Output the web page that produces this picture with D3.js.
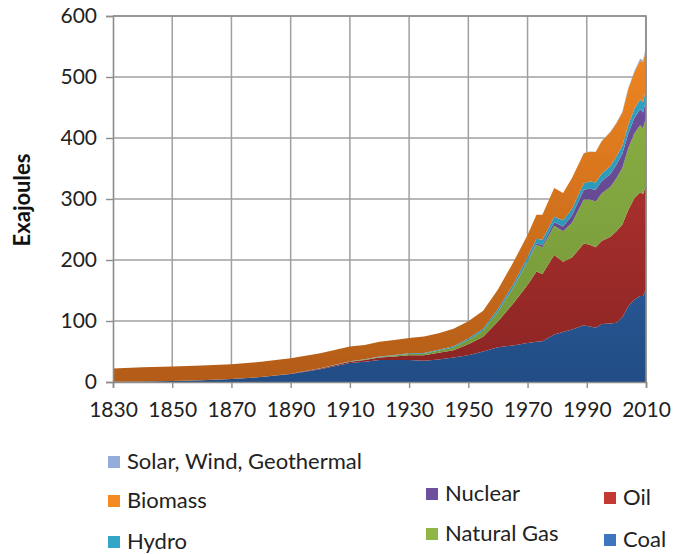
<!DOCTYPE html>
<html>
<head>
<meta charset="utf-8">
<script src="https://cdn.jsdelivr.net/npm/d3@7"></script>
<style>
  html, body { margin: 0; padding: 0; background: #fff; }
  svg { display: block; font-family: Lato, "Open Sans", sans-serif; }
</style>
</head>
<body>
<svg id="chart" width="684" height="554"></svg>
<script>
// world primary energy by source, exajoules
const years   = [1830,1840,1850,1860,1870,1880,1890,1900,1910,1915,1920,1925,1930,1935,1940,1945,1950,1955,1960,1965,1970,1973,1975,1979,1982,1985,1989,1991,1993,1995,1998,2000,2002,2004,2006,2008,2009,2010];
const coal    = [0.3,0.8,1.5,3,5,8,13,21,31,33,36,36,36,35,37,40,44,50,57,60,64,66,67,78,82,86,93,91,89,95,96,97,106,124,135,141,141,152];
const oil     = [0,0,0,0,0,0.1,0.5,1,2,3,4,6,8,9,11,12,18,24,42,68,95,115,110,130,115,118,134,134,132,136,142,150,152,158,166,170,167,170];
const gas     = [0,0,0,0,0,0,0.2,0.3,0.7,0.9,1,1.5,2,2.5,3.5,4.5,7,10,16,25,38,44,44,48,50,57,72,74,75,78,82,87,93,101,106,110,108,112];
const nuclear = [0,0,0,0,0,0,0,0,0,0,0,0,0,0,0,0,0,0,0,0.3,0.8,2,3.5,6,8,12,16,18,19,20,21,22,23,24,25,26,26,28];
const hydro   = [0,0,0,0,0,0,0,0.1,0.3,0.4,0.6,0.8,1,1.2,1.5,2,2.5,3.5,4.5,5.5,7,8,8.5,9,10,10.5,11,11.5,12,12.5,13,13.5,13.5,14,15,16,17,18];
const biomass = [21.7,23.2,24,24,24,24.9,25.3,24.6,24,23.5,24.4,24.7,25,27,27,29,28,29.5,32,36,36,39,41,47,45,51,49,49,50,53,56,54.5,54.3,59.4,60,64,65,66];
const solar   = [0,0,0,0,0,0,0,0,0,0,0,0,0,0,0,0,0,0,0,0,0,0,0,0,0,0.1,0.3,0.4,0.5,0.6,0.8,1,1.2,1.6,2,3,3.5,4];

const seriesNames = ["Coal","Oil","Natural Gas","Nuclear","Hydro","Biomass","Solar, Wind, Geothermal"];
const seriesData  = [coal, oil, gas, nuclear, hydro, biomass, solar];

const xTicks = [1830,1850,1870,1890,1910,1930,1950,1970,1990,2010];
const yTicks = [0,100,200,300,400,500,600];

// fill colours: [top, bottom] of a vertical gradient like the Excel original
const fills = {
    "Coal":        ["#3d76bf", "#214c84"],
    "Oil":         ["#c23a33", "#8a2424"],
    "Natural Gas": ["#8fb545", "#739539"],
    "Nuclear":     ["#6e519c", "#5e4488"],
    "Hydro":       ["#33a5c6", "#2a8fae"],
    "Biomass":     ["#f58a22", "#b35c18"],
    "Solar, Wind, Geothermal": ["#93acdb", "#7f9bcf"]
};

const svg = d3.select("#chart");
const plotLeft = 113, plotRight = 646, plotTop = 16, plotBottom = 382;

const x = d3.scaleLinear().domain([1830, 2010]).range([plotLeft, plotRight]);
const y = d3.scaleLinear().domain([0, 600]).range([plotBottom, plotTop]);

// gradients
const defs = svg.append("defs");
seriesNames.forEach((name, i) => {
    const g = defs.append("linearGradient")
        .attr("id", "grad" + i)
        .attr("gradientUnits", "userSpaceOnUse")
        .attr("x1", 0).attr("x2", 0)
        .attr("y1", plotTop).attr("y2", plotBottom);
    g.append("stop").attr("offset", "0%").attr("stop-color", fills[name][0]);
    g.append("stop").attr("offset", "100%").attr("stop-color", fills[name][1]);
});

// grid
const gridColor = "#a0a0a0";
svg.append("g")
    .selectAll("line")
    .data(yTicks.filter(d => d > 0))
    .join("line")
        .attr("x1", plotLeft).attr("x2", plotRight)
        .attr("y1", d => y(d)).attr("y2", d => y(d))
        .attr("stroke", gridColor)
        .attr("stroke-width", 1.5);

svg.append("g")
    .selectAll("line")
    .data(xTicks.filter(d => d > 1830))
    .join("line")
        .attr("x1", d => x(d)).attr("x2", d => x(d))
        .attr("y1", plotTop).attr("y2", plotBottom)
        .attr("stroke", gridColor)
        .attr("stroke-width", 1.5);

// stacked areas
const rows = years.map((yr, i) => {
    const r = {year: yr};
    seriesNames.forEach((name, k) => r[name] = seriesData[k][i]);
    return r;
});
const stacked = d3.stack().keys(seriesNames)(rows);

const area = d3.area()
    .x(d => x(d.data.year))
    .y0(d => y(d[0]))
    .y1(d => y(d[1]));

svg.append("g")
    .selectAll("path")
    .data(stacked)
    .join("path")
        .attr("d", area)
        .attr("fill", (d, i) => `url(#grad${i})`);

// axes
const xAxis = svg.append("g")
    .attr("transform", `translate(0,${plotBottom})`)
    .call(d3.axisBottom(x).tickValues(xTicks).tickFormat(d3.format("d")).tickSize(6).tickPadding(14));
const yAxis = svg.append("g")
    .attr("transform", `translate(${plotLeft},0)`)
    .call(d3.axisLeft(y).tickValues(yTicks).tickSize(7).tickPadding(9));

[xAxis, yAxis].forEach(a => {
    a.select(".domain").attr("stroke", "#8c8c8c").attr("stroke-width", 1.6);
    a.selectAll(".tick line").attr("stroke", "#8c8c8c").attr("stroke-width", 1.4);
    a.selectAll("text")
        .attr("font-family", "Lato, sans-serif")
        .attr("font-size", 21)
        .attr("fill", "#222");
});

// top and right border of the plot
svg.append("path")
    .attr("d", `M${plotLeft},${plotTop}H${plotRight}V${plotBottom}`)
    .attr("fill", "none")
    .attr("stroke", "#8c8c8c")
    .attr("stroke-width", 1.6);

// y title
svg.append("text")
    .text("Exajoules")
    .attr("transform", "translate(30,200) rotate(-90)")
    .attr("text-anchor", "middle")
    .attr("font-family", "Lato, sans-serif")
    .attr("font-weight", "bold")
    .attr("font-size", 22)
    .attr("fill", "#111");

// legend, laid out like the original
const legendItems = [
    {name: "Solar, Wind, Geothermal", x: 108, y: 469},
    {name: "Biomass",     x: 108, y: 508},
    {name: "Hydro",       x: 108, y: 549},
    {name: "Nuclear",     x: 426, y: 501},
    {name: "Natural Gas", x: 426, y: 541},
    {name: "Oil",         x: 604, y: 505},
    {name: "Coal",        x: 604, y: 547}
];

const legend = svg.append("g")
    .selectAll("g")
    .data(legendItems)
    .join("g")
        .attr("transform", d => `translate(${d.x},${d.y})`);

legend.append("rect")
    .attr("x", 0).attr("y", -13)
    .attr("width", 12).attr("height", 12)
    .attr("fill", d => fills[d.name][0]);

legend.append("text")
    .text(d => d.name)
    .attr("x", 19)
    .attr("font-family", "Lato, sans-serif")
    .attr("font-size", 22)
    .attr("fill", "#222");
</script>
</body>
</html>
